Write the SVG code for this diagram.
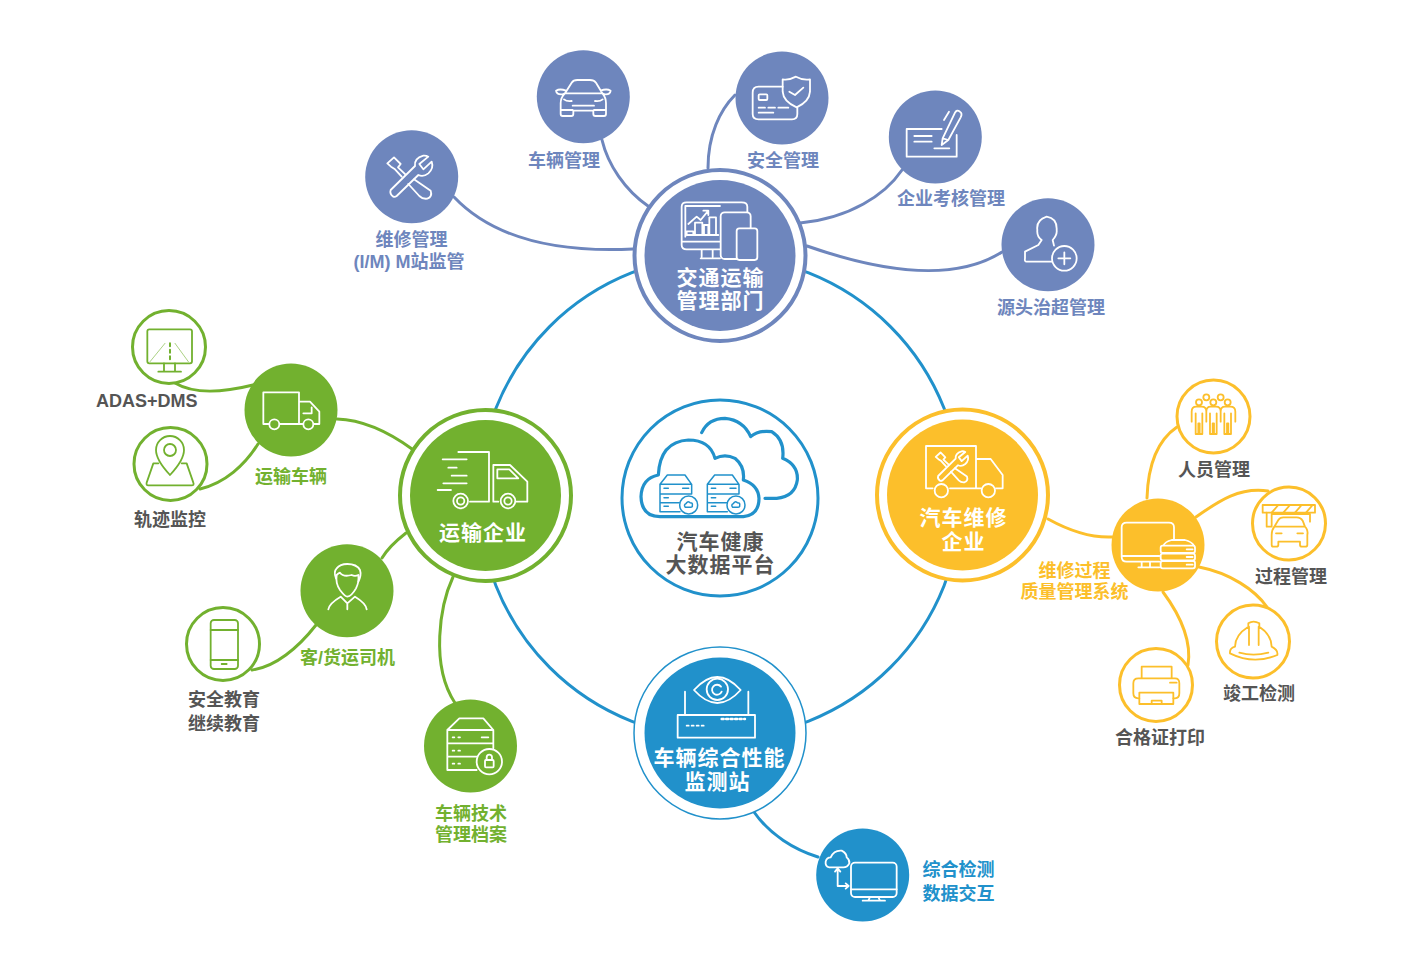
<svg xmlns="http://www.w3.org/2000/svg" xmlns:xlink="http://www.w3.org/1999/xlink" width="1420" height="957" viewBox="0 0 1420 957">
<style>
text{font-family:"Liberation Sans","Noto Sans CJK SC",sans-serif;font-weight:700;text-anchor:middle}
.l{font-size:18px}.h{font-size:21px;letter-spacing:1px}
.ts{fill:#6e86bd}.tg{fill:#72b12f}.ty{fill:#fcbf2b}.tb{fill:#2191cb}.td{fill:#555}.tw{fill:#fff}
.c{fill:none;stroke-width:3;stroke-linecap:round}
.cs{stroke:#6e86bd}.cg{stroke:#72b12f}.cy{stroke:#fcbf2b}.cb{stroke:#2191cb}
.fs{fill:#6e86bd}.fg{fill:#72b12f}.fy{fill:#fcbf2b}.fb{fill:#2191cb}
.os{fill:#fff;stroke:#6e86bd;stroke-width:4}.og{fill:#fff;stroke:#72b12f;stroke-width:4}.oy{fill:#fff;stroke:#fcbf2b;stroke-width:4}.ob{fill:#fff;stroke:#2191cb;stroke-width:1.5}
.ic,.ig,.iy,.ib{fill:none;stroke-width:1.8;stroke-linejoin:round;stroke-linecap:round}
.ic{stroke:#fff}.ig{stroke:#72b12f}.iy{stroke:#fcbf2b}.ib{stroke:#2191cb}
.ic *,.ig *,.iy *,.ib *,#tools *,#srv *{vector-effect:non-scaling-stroke}
</style>
<defs>
<g id="tools">
<path d="M160 470Q148 462 152 450L225 378Q222 355 250 347Q258 346 265 350L238 372L250 388L275 365Q282 385 265 400Q250 412 235 405L170 468Q165 472 160 470Z"/>
<path d="M142 370L162 352L182 372L174 382L196 403M142 370L153 380L165 388L185 410M222 418L272 452Q278 470 262 476Q248 478 238 468L205 432"/>
</g>
<g id="srv">
<path d="M150 283L172 255H225L245 283V312M150 283H245M150 283V365H210M150 312H245M150 338H208"/>
<path d="M162 295H175M162 323H175M162 349H175M218 295H236"/>
<circle cx="236" cy="345" r="27" fill="#fff"/>
<path d="M226 352Q220 344 228 341Q232 332 240 338Q249 338 247 346Q248 352 242 352Z"/>
</g>
</defs>

<g id="connectors">
<circle class="c cb" cx="720" cy="497" r="241"/>
<path class="c cs" d="M454 197C490 235 550 253 633 249"/>
<path class="c cs" d="M602 140C608 165 625 190 648 206"/>
<path class="c cs" d="M708 168C708 135 720 110 735 95"/>
<path class="c cs" d="M800 223C850 218 885 195 902 170"/>
<path class="c cs" d="M807 246C870 268 950 285 1002 252"/>
<path class="c cg" d="M175 383C195 395 225 392 253 385"/>
<path class="c cg" d="M200 489C225 483 245 465 258 444"/>
<path class="c cg" d="M337 419C365 420 390 433 412 449"/>
<path class="c cg" d="M382 558C388 548 397 540 406 533"/>
<path class="c cg" d="M252 670C275 667 298 648 316 625"/>
<path class="c cg" d="M453 577C440 605 430 665 455 703"/>
<path class="c cy" d="M1048 519C1068 530 1090 538 1112 537"/>
<path class="c cy" d="M1147 498C1148 465 1158 440 1177 427"/>
<path class="c cy" d="M1196 517C1220 500 1240 487 1268 491"/>
<path class="c cy" d="M1199 567C1230 573 1255 590 1267 607"/>
<path class="c cy" d="M1163 592C1180 615 1192 640 1188 665"/>
<path class="c cb" d="M754 812C770 835 795 850 818 857"/>
</g>

<g id="hub-transport">
<circle class="os" cx="720" cy="255.5" r="85.5"/>
<circle class="fs" cx="720" cy="255.5" r="75.5"/>
<g class="ic" transform="translate(340 40) scale(.33333)">
<path d="M1140 628H1040Q1025 628 1025 615V500Q1025 487 1040 487H1205Q1222 487 1222 500V517M1025 605H1140M1036 590V498H1140M1085 628V650M1118 628V650M1082 655H1140"/>
<path d="M1040 585V574H1060V585M1065 585V548H1087V585M1092 585V555H1105V585M1108 585V532H1128V585M1040 585H1135"/>
<path d="M1045 552L1070 530L1082 540L1105 512M1090 512H1105V525"/>
<rect x="1142" y="517" width="90" height="140" rx="12" fill="#6e86bd"/>
<rect x="1190" y="565" width="62" height="95" rx="8" fill="#6e86bd"/>
</g>
<text class="h tw" x="720.5" y="285">交通运输</text>
<text class="h tw" x="720.5" y="308">管理部门</text>
</g>

<g id="hub-transit-enterprise">
<circle class="og" cx="485.5" cy="495.5" r="85.5"/>
<circle class="fg" cx="485.5" cy="495.5" r="75.5"/>
<g class="ic" transform="translate(90 300) scale(.33333)">
<path d="M1105 456H1197V605H1140M1058 478H1130M1075 503H1100M1085 527H1130M1060 550H1130M1043 570H1083"/>
<path d="M1210 605V495H1260L1312 545V605H1280M1210 605H1225M1222 508V535H1285L1258 508Z"/>
<circle cx="1112" cy="603" r="22" fill="#72b12f"/><circle cx="1112" cy="603" r="11"/>
<circle cx="1254" cy="603" r="22" fill="#72b12f"/><circle cx="1254" cy="603" r="11"/>
</g>
<text class="h tw" x="483" y="540">运输企业</text>
</g>

<g id="hub-repair">
<circle class="oy" cx="962.5" cy="495" r="85.5"/>
<circle class="fy" cx="962.5" cy="495" r="75.5"/>
<g class="ic" transform="translate(870 370) scale(.33333)">
<path d="M188 355H168V228H318V355H240M318 267H362L398 315V355H378M318 355H332"/>
<circle cx="214" cy="362" r="20" fill="#fcbf2b"/><circle cx="355" cy="362" r="20" fill="#fcbf2b"/>
<use xlink:href="#tools" href="#tools" transform="translate(95 -6) scale(.72)"/>
</g>
<text class="h tw" x="963.5" y="525">汽车维修</text>
<text class="h tw" x="963.5" y="549">企业</text>
</g>

<g id="hub-station">
<circle class="ob" cx="720" cy="733" r="86"/>
<circle class="fb" cx="720" cy="733" r="75.5"/>
<g class="ic" transform="translate(620 640) scale(.33333)">
<path d="M222 150Q292 72 362 150Q292 228 222 150Z"/>
<circle cx="292" cy="148" r="32"/>
<path d="M303 140A15 15 0 1 0 305 155"/>
<path d="M195 155V225M385 155V225"/>
<rect x="173" y="225" width="232" height="68"/>
<path d="M200 257H255" stroke-dasharray="2 3"/>
<path d="M305 237H375" stroke-dasharray="2 2.5" stroke-width="2.5"/>
</g>
<text class="h tw" x="719.5" y="765">车辆综合性能</text>
<text class="h tw" x="717.5" y="789">监测站</text>
</g>

<g id="hub-platform">
<circle cx="720" cy="498" r="98" fill="#fff" stroke="#2191cb" stroke-width="3"/>
<g class="ib" transform="translate(610 390) scale(.33333)">
<path stroke-width="3.2" d="M150 380H400Q447 375 447 325Q445 285 400 270Q405 230 375 205Q345 190 315 205Q300 150 235 150Q150 155 145 255Q95 265 93 320Q95 380 150 380Z"/>
<path stroke-width="3.2" d="M275 128Q295 85 345 85Q400 90 422 140Q445 120 485 125Q525 150 518 205Q565 225 562 270Q555 320 500 325H465"/>
<g stroke-width="1.5"><use xlink:href="#srv" href="#srv"/><use xlink:href="#srv" href="#srv" transform="translate(142 0)"/></g>
</g>
<text class="h td" x="720.5" y="549">汽车健康</text>
<text class="h td" x="720.5" y="572">大数据平台</text>
</g>

<g id="node-vehicle-mgmt">
<circle class="fs" cx="583.3" cy="96.7" r="46.5"/>
<g class="ic" transform="translate(340 40) scale(.33333)">
<path d="M675 160L695 128Q700 120 712 120H750Q762 120 768 128L787 160M675 160Q662 172 662 190V222Q662 228 668 228H694Q700 228 700 222V212H760V222Q760 228 766 228H792Q798 228 798 222V190Q798 172 787 160M675 160H787M675 160L668 163Q650 165 648 152Q660 145 678 152M787 160L794 163Q810 165 812 152Q800 145 782 152M672 178Q680 185 695 183M788 178Q780 185 765 183M698 197H762M664 210H698M762 210H796"/>
</g>
<text class="l ts" x="564" y="167">车辆管理</text>
</g>

<g id="node-safety-mgmt">
<circle class="fs" cx="782" cy="98" r="46.5"/>
<g class="ic" transform="translate(340 40) scale(.33333)">
<path d="M1328 140H1256Q1238 140 1238 158V222Q1238 238 1256 238H1356Q1372 238 1372 222V203"/>
<rect x="1256" y="163" width="26" height="17" rx="3"/>
<path d="M1256 203H1275M1285 203H1305M1315 203H1345M1256 218H1300"/>
<path d="M1368 110Q1345 122 1328 118V155Q1330 185 1370 202Q1408 185 1410 155V118Q1390 122 1368 110Z"/>
<path d="M1348 155L1365 165L1390 143"/>
</g>
<text class="l ts" x="783" y="167">安全管理</text>
</g>

<g id="node-repair-mgmt">
<circle class="fs" cx="411.7" cy="176.7" r="46.5"/>
<g class="ic" transform="translate(340 40) scale(.33333)"><use xlink:href="#tools" href="#tools"/></g>
<text class="l ts" x="411.5" y="246">维修管理</text>
<text class="l ts" x="409" y="268">(I/M) M站监管</text>
</g>

<g id="node-assess-mgmt">
<circle class="fs" cx="935.3" cy="137" r="46.5"/>
<g class="ic" transform="translate(800 80) scale(.33333)">
<path d="M425 147H320V230H470V165M343 168H395M343 185H395M403 205H448"/>
<path d="M432 190L425 195L428 175L465 98Q470 88 480 95Q488 100 482 112L445 180ZM447 95L432 120M428 175L445 180"/>
</g>
<text class="l ts" x="951" y="205">企业考核管理</text>
</g>

<g id="node-overload-mgmt">
<circle class="fs" cx="1048" cy="244.7" r="46.5"/>
<g class="ic" transform="translate(800 80) scale(.33333)">
<path d="M755 545H680Q673 545 675 535V515L715 495L725 480Q710 470 712 450Q708 420 740 410Q772 415 770 450Q772 465 758 480L762 497"/>
<circle cx="793" cy="535" r="37"/>
<path d="M793 517V553M775 535H811"/>
</g>
<text class="l ts" x="1051" y="314">源头治超管理</text>
</g>

<g id="node-transit-vehicle">
<circle class="fg" cx="291" cy="410" r="46.5"/>
<g class="ic" transform="translate(90 300) scale(.33333)">
<path d="M537 372H520V277H627V372H570M627 305H660L688 335V372H672M627 372H638M640 340H665V322"/>
<circle cx="553" cy="373" r="15"/><circle cx="655" cy="373" r="15"/>
</g>
<text class="l tg" x="291" y="483">运输车辆</text>
</g>

<g id="node-adas">
<circle class="og" style="stroke-width:3" cx="169" cy="347" r="36.5"/>
<g class="ig" transform="translate(90 300) scale(.33333)">
<rect x="172" y="88" width="134" height="102" rx="6"/>
<path d="M240 130V178" stroke-dasharray="3 3.5" stroke-width="2"/>
<path d="M225 130L180 185M255 130L295 185" stroke-width=".6"/>
<path d="M222 190V212M255 190V212M205 215H273"/>
</g>
<text class="l td" x="146.7" y="407">ADAS+DMS</text>
</g>

<g id="node-track">
<circle class="og" style="stroke-width:3" cx="170.5" cy="464" r="36.5"/>
<g class="ig" transform="translate(90 300) scale(.33333)">
<path d="M240 525Q198 480 198 450A42 42 0 1 1 282 450Q282 480 240 525Z"/>
<circle cx="240" cy="450" r="18"/>
<path d="M205 490H190L170 548Q168 556 175 556H305Q313 556 310 548L290 490H275"/>
</g>
<text class="l td" x="170" y="526">轨迹监控</text>
</g>

<g id="node-driver">
<circle class="fg" cx="347" cy="590.7" r="46.5"/>
<g class="ic" transform="translate(170 540) scale(.33333)">
<path d="M498 115Q490 95 500 85Q510 72 532 72Q560 72 570 90Q575 105 565 125"/>
<path d="M500 105Q496 130 510 150Q525 170 532 170Q545 168 558 145Q568 125 565 105Q555 110 545 105Q520 112 510 98Q505 100 500 105Z"/>
<path d="M475 208Q478 190 512 170L532 190L555 170Q588 190 590 208M532 190V208"/>
</g>
<text class="l tg" x="347.5" y="664">客/货运司机</text>
</g>

<g id="node-education">
<circle class="og" style="stroke-width:3" cx="223" cy="644" r="36.5"/>
<g class="ig" transform="translate(170 540) scale(.33333)">
<rect x="122" y="240" width="82" height="147" rx="10"/>
<path d="M122 270H204M122 360H204M155 372H170"/>
</g>
<text class="l td" x="224" y="706">安全教育</text>
<text class="l td" x="224" y="730">继续教育</text>
</g>

<g id="node-archive">
<circle class="fg" cx="470.5" cy="746" r="46.5"/>
<g class="ic" transform="translate(170 540) scale(.33333)">
<path d="M832 570L868 535H940L970 570V625M832 570H970M832 570V690H920M832 610H970M832 650H925M848 592H853M865 592H870M935 592H955M848 632H853M865 632H870M848 671H853M865 671H870"/>
<circle cx="958" cy="665" r="38" fill="#72b12f"/>
<rect x="945" y="660" width="26" height="22" rx="3"/>
<path d="M950 660V652A8 8 0 0 1 966 652V660"/>
</g>
<text class="l tg" x="471" y="820">车辆技术</text>
<text class="l tg" x="471" y="841">管理档案</text>
</g>

<g id="node-quality">
<circle class="fy" cx="1158" cy="545" r="46.5"/>
<g class="ic" transform="translate(870 370) scale(.33333)">
<path d="M868 575H770Q755 575 755 560V472Q755 458 770 458H897Q912 458 912 472V510M755 558H868M815 575V592M840 575V592M805 592H868"/>
<path d="M880 527Q885 515 905 510H945Q965 515 972 527"/>
<rect x="872" y="527" width="103" height="22" rx="6" fill="#fcbf2b"/>
<rect x="872" y="551" width="103" height="20" rx="6" fill="#fcbf2b"/>
<rect x="872" y="573" width="103" height="22" rx="6" fill="#fcbf2b"/>
<path d="M950 538H968M950 561H968M950 584H968"/>
</g>
<text class="l ty" x="1074.5" y="577">维修过程</text>
<text class="l ty" x="1074.5" y="598">质量管理系统</text>
</g>

<g id="node-staff">
<circle class="oy" style="stroke-width:3" cx="1213.5" cy="416.5" r="36.5"/>
<g class="iy" transform="translate(870 370) scale(.33333)" stroke-width="1.2">
<circle cx="1009" cy="82" r="9"/><circle cx="1052" cy="82" r="9"/>
<circle cx="987" cy="97" r="9"/><circle cx="1030" cy="97" r="9"/><circle cx="1073" cy="97" r="9"/>
<path d="M965 155V125Q965 110 979 110H995Q1009 110 1009 125V155M977 130V192H985V160H989V192H997V130M1009 155V125Q1009 110 1022 110H1038Q1052 110 1052 125V155M1020 130V192H1028V160H1032V192H1040V130M1052 155V125Q1052 110 1065 110H1081Q1096 110 1096 125V155M1063 130V192H1071V160H1075V192H1083V130"/>
</g>
<text class="l td" x="1214" y="476">人员管理</text>
</g>

<g id="node-process">
<circle class="oy" style="stroke-width:3" cx="1289" cy="523.5" r="36.5"/>
<g class="iy" transform="translate(870 370) scale(.33333)">
<rect x="1178" y="405" width="157" height="23"/>
<path d="M1205 428L1225 405M1240 428L1260 405M1275 428L1295 405M1308 428L1328 405"/>
<path d="M1190 428V470H1205V432H1320V455"/>
<path d="M1213 470L1225 450Q1230 442 1240 442H1280Q1292 442 1298 452L1305 470Q1315 480 1312 495V525Q1312 530 1306 530H1296Q1290 530 1290 525V515H1225V525Q1225 530 1219 530H1210Q1205 530 1205 525V495Q1205 480 1213 470ZM1213 470H1305M1218 490H1235M1282 490H1299"/>
</g>
<text class="l td" x="1291" y="583">过程管理</text>
</g>

<g id="node-acceptance">
<circle class="oy" style="stroke-width:3" cx="1253" cy="641.5" r="36.5"/>
<g class="iy" transform="translate(870 370) scale(.33333)">
<path d="M1080 850Q1078 835 1095 830Q1095 795 1135 770V760Q1150 750 1168 760V770Q1205 795 1205 830Q1225 840 1222 855Q1150 885 1080 850ZM1137 770V825M1166 770V825M1108 848Q1150 860 1195 848"/>
</g>
<text class="l td" x="1259" y="700">竣工检测</text>
</g>

<g id="node-certificate">
<circle class="oy" style="stroke-width:3" cx="1156" cy="685" r="36.5"/>
<g class="iy" transform="translate(870 370) scale(.33333)">
<path d="M815 925V890H905V925M808 985H805Q790 985 790 970V940Q790 925 805 925H915Q928 925 928 940V970Q928 985 915 985H910"/>
<path d="M808 968H910V1002H808ZM845 1002V992H875V1002M900 938H920"/>
</g>
<text class="l td" x="1160" y="744">合格证打印</text>
</g>

<g id="node-exchange">
<circle class="fb" cx="862.7" cy="875" r="46.5"/>
<g class="ic" transform="translate(620 640) scale(.33333)">
<rect x="693" y="668" width="137" height="103" rx="12"/>
<path d="M693 748H830M750 771L745 782M775 771L780 782M728 782H795"/>
<path d="M628 682Q615 680 617 665Q620 652 632 652Q642 630 665 632Q680 640 680 652Q690 660 688 670Q682 682 670 682Z"/>
<path d="M653 688V738H683M645 695L653 685L661 695M677 730L686 738L677 746"/>
</g>
<text class="l tb" x="958.5" y="876">综合检测</text>
<text class="l tb" x="958.5" y="900">数据交互</text>
</g>
</svg>
